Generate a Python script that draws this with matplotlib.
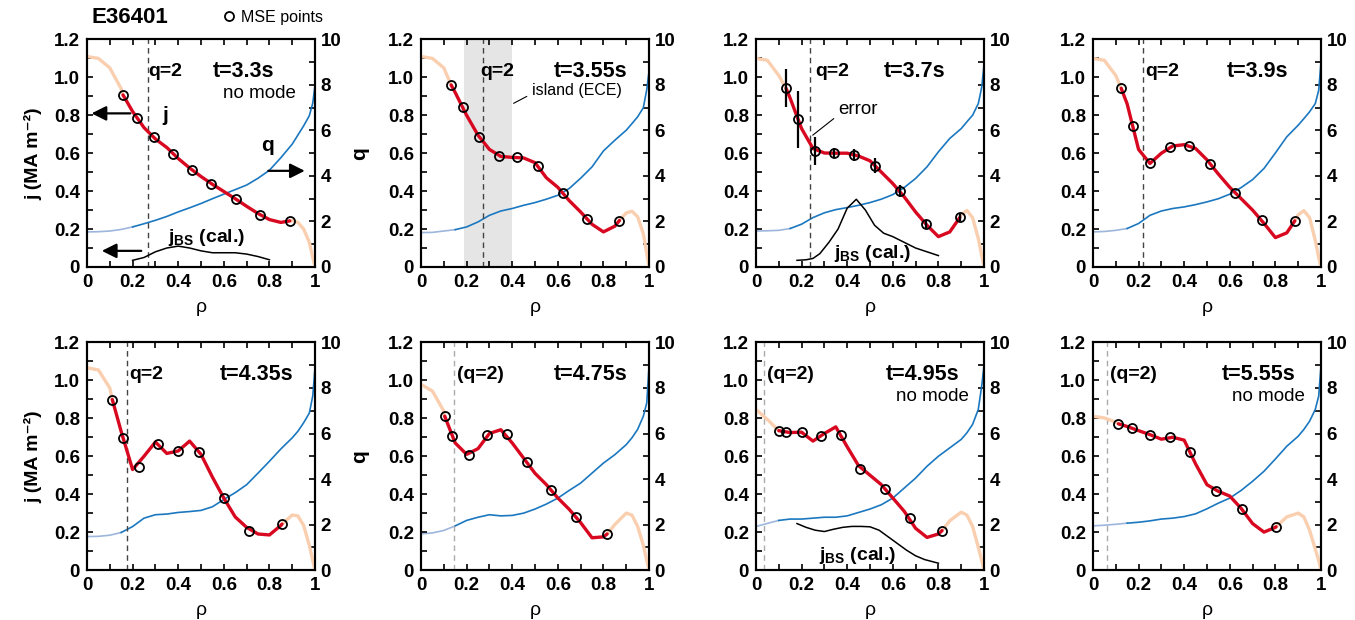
import numpy as np
import matplotlib
matplotlib.use("Agg")
import matplotlib.pyplot as plt
from matplotlib.lines import Line2D

plt.rcParams['font.family'] = ['Liberation Sans', 'DejaVu Sans']
plt.rcParams['font.weight'] = 'bold'
plt.rcParams['axes.labelweight'] = 'bold'
plt.rcParams['mathtext.fontset'] = 'custom'
plt.rcParams['mathtext.rm'] = 'Liberation Sans'
plt.rcParams['mathtext.bf'] = 'Liberation Sans:bold'
plt.rcParams['axes.linewidth'] = 1.5

# radial grid shared by the j and q profiles
rho_grid = [0, .05, .1, .15, .2, .25, .3, .35, .4, .45, .5, .55, .6, .65,
            .7, .75, .8, .85, .9, .925, .95, .975, .99, 1.0]

# t = 3.3 s
j_p1 = [1.11, 1.10, 1.05, 0.94, 0.82, 0.735, 0.675, 0.63, 0.572, 0.522, 0.477, 0.436,
        0.398, 0.36, 0.32, 0.282, 0.25, 0.235, 0.245, 0.235, 0.20, 0.13, 0.05, 0.0]
q_p1 = [1.54, 1.55, 1.58, 1.65, 1.76, 1.9, 2.05, 2.22, 2.42, 2.6, 2.79, 3.0,
        3.2, 3.4, 3.6, 3.9, 4.25, 4.8, 5.4, 5.8, 6.2, 6.65, 7.2, 8.0]
mse_r_p1 = [0.158, 0.218, 0.293, 0.376, 0.460, 0.545, 0.653, 0.758, 0.889]
mse_j_p1 = [0.907, 0.785, 0.685, 0.597, 0.511, 0.440, 0.357, 0.276, 0.243]
jbs_r_p1 = [0.2, 0.25, 0.3, 0.35, 0.4, 0.45, 0.5, 0.55, 0.6, 0.65, 0.7, 0.75, 0.8]
jbs_j_p1 = [0.035, 0.05, 0.08, 0.1, 0.11, 0.1, 0.085, 0.075, 0.075, 0.075, 0.068, 0.055, 0.038]

# t = 3.55 s
j_p2 = [1.11, 1.10, 1.05, 0.92, 0.80, 0.695, 0.62, 0.583, 0.578, 0.575, 0.55, 0.47,
        0.42, 0.35, 0.29, 0.225, 0.185, 0.215, 0.285, 0.294, 0.265, 0.175, 0.07, 0.0]
q_p2 = [1.51, 1.52, 1.58, 1.64, 1.76, 1.98, 2.27, 2.46, 2.57, 2.71, 2.83, 2.98,
        3.15, 3.45, 3.9, 4.4, 5.1, 5.57, 6.01, 6.3, 6.6, 7.0, 7.8, 8.6]
mse_r_p2 = [0.132, 0.182, 0.255, 0.340, 0.423, 0.513, 0.621, 0.728, 0.870]
mse_j_p2 = [0.96, 0.842, 0.683, 0.586, 0.581, 0.533, 0.391, 0.255, 0.245]

# t = 3.7 s
j_p3 = [1.10, 1.09, 1.01, 0.89, 0.73, 0.625, 0.601, 0.600, 0.600, 0.585, 0.56, 0.50,
        0.44, 0.37, 0.29, 0.22, 0.16, 0.185, 0.275, 0.298, 0.26, 0.15, 0.06, 0.0]
q_p3 = [1.58, 1.59, 1.61, 1.69, 1.88, 2.17, 2.38, 2.52, 2.61, 2.71, 2.83, 2.98,
        3.18, 3.49, 3.89, 4.4, 5.06, 5.65, 6.08, 6.38, 6.67, 7.18, 7.9, 8.87]
mse_r_p3 = [0.132, 0.184, 0.259, 0.343, 0.431, 0.522, 0.631, 0.746, 0.894]
mse_j_p3 = [0.942, 0.780, 0.611, 0.602, 0.590, 0.533, 0.400, 0.227, 0.261]
mse_err_p3 = [0.10, 0.15, 0.072, 0.027, 0.03, 0.04, 0.033, 0.02, 0.02]
jbs_r_p3 = [0.18, 0.22, 0.25, 0.28, 0.32, 0.36, 0.40, 0.44, 0.48, 0.52, 0.56, 0.60,
            0.65, 0.70, 0.75, 0.80]
jbs_j_p3 = [0.035, 0.038, 0.045, 0.07, 0.13, 0.20, 0.31, 0.357, 0.30, 0.22, 0.178, 0.16,
            0.13, 0.10, 0.08, 0.06]

# t = 3.9 s
j_p4 = [1.10, 1.09, 1.01, 0.86, 0.62, 0.546, 0.60, 0.638, 0.645, 0.625, 0.565, 0.49,
        0.42, 0.36, 0.30, 0.23, 0.155, 0.18, 0.275, 0.297, 0.26, 0.14, 0.05, 0.0]
q_p4 = [1.54, 1.56, 1.61, 1.69, 1.91, 2.27, 2.46, 2.57, 2.64, 2.74, 2.86, 3.0,
        3.2, 3.49, 3.84, 4.33, 5.01, 5.72, 6.23, 6.52, 6.82, 7.18, 7.77, 9.0]
mse_r_p4 = [0.124, 0.174, 0.250, 0.336, 0.423, 0.514, 0.623, 0.741, 0.885]
mse_j_p4 = [0.942, 0.745, 0.546, 0.634, 0.637, 0.542, 0.391, 0.250, 0.243]

# t = 4.35 s
j_p5 = [1.067, 1.055, 0.96, 0.73, 0.53, 0.60, 0.675, 0.615, 0.628, 0.68, 0.61, 0.49,
        0.379, 0.28, 0.225, 0.19, 0.185, 0.235, 0.29, 0.285, 0.235, 0.13, 0.05, 0.0]
q_p5 = [1.47, 1.48, 1.53, 1.65, 1.91, 2.28, 2.43, 2.46, 2.53, 2.57, 2.62, 2.78,
        3.1, 3.4, 3.75, 4.26, 4.78, 5.32, 5.81, 6.1, 6.47, 6.9, 7.65, 8.9]
mse_r_p5 = [0.111, 0.157, 0.228, 0.313, 0.400, 0.493, 0.599, 0.712, 0.855]
mse_j_p5 = [0.899, 0.697, 0.543, 0.667, 0.628, 0.624, 0.379, 0.208, 0.242]

# t = 4.75 s
j_p6 = [0.979, 0.944, 0.838, 0.67, 0.61, 0.64, 0.72, 0.74, 0.67, 0.59, 0.51, 0.45,
        0.38, 0.32, 0.25, 0.17, 0.175, 0.24, 0.30, 0.29, 0.23, 0.13, 0.05, 0.0]
q_p6 = [1.59, 1.63, 1.74, 1.94, 2.18, 2.32, 2.43, 2.38, 2.40, 2.5, 2.68, 2.9,
        3.16, 3.5, 3.82, 4.26, 4.7, 5.07, 5.51, 5.81, 6.18, 6.76, 7.35, 8.97]
mse_r_p6 = [0.104, 0.138, 0.210, 0.290, 0.375, 0.463, 0.568, 0.678, 0.816]
mse_j_p6 = [0.811, 0.709, 0.605, 0.714, 0.720, 0.571, 0.423, 0.279, 0.190]

# t = 4.95 s
j_p7 = [0.847, 0.794, 0.74, 0.725, 0.727, 0.68, 0.72, 0.755, 0.65, 0.55, 0.50, 0.45,
        0.38, 0.31, 0.22, 0.172, 0.19, 0.26, 0.305, 0.29, 0.23, 0.12, 0.05, 0.0]
q_p7 = [1.91, 2.05, 2.18, 2.24, 2.24, 2.28, 2.32, 2.32, 2.38, 2.53, 2.68, 2.87,
        3.16, 3.6, 4.04, 4.56, 5.0, 5.37, 5.74, 6.03, 6.4, 7.06, 8.1, 8.97]
mse_r_p7 = [0.100, 0.133, 0.204, 0.285, 0.372, 0.457, 0.566, 0.674, 0.816]
mse_j_p7 = [0.735, 0.727, 0.727, 0.705, 0.714, 0.534, 0.429, 0.272, 0.208]
jbs_r_p7 = [0.18, 0.22, 0.26, 0.3, 0.34, 0.38, 0.42, 0.46, 0.5, 0.54, 0.58, 0.62,
            0.66, 0.7, 0.74, 0.8]
jbs_j_p7 = [0.245, 0.225, 0.21, 0.203, 0.215, 0.225, 0.23, 0.23, 0.228, 0.21, 0.175, 0.14,
            0.105, 0.075, 0.055, 0.036]

# t = 5.55 s
j_p8 = [0.811, 0.802, 0.78, 0.757, 0.735, 0.714, 0.69, 0.70, 0.685, 0.56, 0.45, 0.415,
        0.39, 0.325, 0.245, 0.2, 0.225, 0.28, 0.30, 0.28, 0.21, 0.11, 0.05, 0.0]
q_p8 = [1.94, 1.97, 2.01, 2.06, 2.1, 2.16, 2.24, 2.28, 2.35, 2.47, 2.69, 2.94,
        3.16, 3.5, 3.9, 4.34, 4.88, 5.44, 5.88, 6.18, 6.54, 7.06, 7.65, 8.97]
mse_r_p8 = [0.112, 0.171, 0.249, 0.336, 0.427, 0.538, 0.654, 0.803]
mse_j_p8 = [0.771, 0.750, 0.714, 0.700, 0.621, 0.418, 0.321, 0.228]

times = ['t=3.3s', 't=3.55s', 't=3.7s', 't=3.9s', 't=4.35s', 't=4.75s', 't=4.95s', 't=5.55s']
q2_pos = [0.268, 0.27, 0.238, 0.219, 0.176, 0.143, 0.037, 0.062]
q2_text = ['q=2', 'q=2', 'q=2', 'q=2', 'q=2', '(q=2)', '(q=2)', '(q=2)']
no_mode = [True, False, False, False, False, False, True, True]

j_list = [j_p1, j_p2, j_p3, j_p4, j_p5, j_p6, j_p7, j_p8]
q_list = [q_p1, q_p2, q_p3, q_p4, q_p5, q_p6, q_p7, q_p8]
mr_list = [mse_r_p1, mse_r_p2, mse_r_p3, mse_r_p4, mse_r_p5, mse_r_p6, mse_r_p7, mse_r_p8]
mj_list = [mse_j_p1, mse_j_p2, mse_j_p3, mse_j_p4, mse_j_p5, mse_j_p6, mse_j_p7, mse_j_p8]

RED = '#d7081f'
PEACH = '#f9cfb0'
BLUE = '#1b78c0'
LBLUE = '#9db6dc'

fig = plt.figure(figsize=(13.55, 6.2), dpi=100)
lefts = [0.0642, 0.3107, 0.5579, 0.8066]
bottoms = [0.5694, 0.0806]
W, H = 0.1683, 0.367

# label positions inside panels (rho of left edge)
q2_tx = [0.27, 0.26, 0.26, 0.231, 0.185, 0.157, 0.047, 0.074]
t_tx = [0.553, 0.582, 0.562, 0.585, 0.583, 0.581, 0.568, 0.563]

axes = []
for k in range(8):
    row, col = divmod(k, 4)
    ax = fig.add_axes([lefts[col], bottoms[row], W, H])
    ax2 = ax.twinx()
    ax.set_zorder(ax2.get_zorder() + 1)
    ax.patch.set_visible(False)
    axes.append((ax, ax2))

    r = np.array(rho_grid)
    j = np.array(j_list[k])
    q = np.array(q_list[k])
    mr = mr_list[k]
    mj = mj_list[k]
    lo, hi = mr[0], mr[-1]
    left = r < lo
    right = r > hi
    inner = (r > lo) & (r < hi)

    # q profile
    idx = int(np.argmax(r >= lo))
    ax2.plot(r[:idx + 1], q[:idx + 1], color=LBLUE, lw=1.2)
    ax2.plot(r[idx:], q[idx:], color=BLUE, lw=1.2)

    # j profile
    ax.plot(np.r_[r[left], lo], np.r_[j[left], mj[0]], color=PEACH, lw=2.4,
            solid_capstyle='round')
    ax.plot(np.r_[hi, r[right]], np.r_[mj[-1], j[right]], color=PEACH, lw=2.4,
            solid_capstyle='round')
    ax.plot(np.r_[lo, r[inner], hi], np.r_[mj[0], j[inner], mj[-1]], color=RED, lw=2.4,
            solid_capstyle='round', solid_joinstyle='round', zorder=3)
    if k == 2:
        ax.errorbar(mr, mj, yerr=mse_err_p3, fmt='none', ecolor='k', elinewidth=1.6,
                    capsize=0, zorder=4)
    ax.plot(mr, mj, 'o', mfc='none', mec='k', ms=6.5, mew=1.3, zorder=5)

    # q=2 location
    dash_col = '#444444' if k < 5 else '#aaaaaa'
    ax.axvline(q2_pos[k], color=dash_col, lw=1, ls=(0, (4, 3)), zorder=1)

    ax.text(q2_tx[k], 1.03, q2_text[k], fontsize=14, ha='left', va='center')
    ax.text(t_tx[k], 1.03, times[k], fontsize=15.5, ha='left', va='center')
    if no_mode[k]:
        ax.text(t_tx[k] + 0.045, 0.915, 'no mode', fontsize=13.5, fontweight='normal',
                ha='left', va='center')

    ax.set_xlim(0, 1)
    ax.set_ylim(0, 1.2)
    ax2.set_ylim(0, 10)
    ax.set_xticks([0, 0.2, 0.4, 0.6, 0.8, 1.0])
    ax.set_xticklabels(['0', '0.2', '0.4', '0.6', '0.8', '1'])
    ax.set_xticks(np.arange(0.1, 1.0, 0.2), minor=True)
    ax.set_yticks([0, 0.2, 0.4, 0.6, 0.8, 1.0, 1.2])
    ax.set_yticklabels(['0', '0.2', '0.4', '0.6', '0.8', '1.0', '1.2'])
    ax.set_yticks(np.arange(0.1, 1.2, 0.2), minor=True)
    ax2.set_yticks([0, 2, 4, 6, 8, 10])
    ax2.set_yticks([1, 3, 5, 7, 9], minor=True)
    ax.tick_params(which='both', direction='in', top=True, right=False, length=4,
                   width=1.2, labelsize=13.5, pad=5)
    ax2.tick_params(which='both', direction='in', length=4, width=1.2, labelsize=13.5, pad=4)
    ax.set_xlabel('ρ', fontsize=14, fontweight='normal', labelpad=6)
    for s in ax2.spines.values():
        s.set_linewidth(1.5)

# bootstrap current
a1 = axes[0][0]
a3 = axes[2][0]
a7 = axes[6][0]
a1.plot(jbs_r_p1, jbs_j_p1, color='k', lw=1.1)
a3.plot(jbs_r_p3, jbs_j_p3, color='k', lw=1.1)
a7.plot(jbs_r_p7, jbs_j_p7, color='k', lw=1.1)
jbs_lab = r'$\mathbf{j_{BS}}$ (cal.)'
a1.text(0.356, 0.158, jbs_lab, fontsize=14, ha='left', va='center')
a3.text(0.344, 0.07, jbs_lab, fontsize=14, ha='left', va='center')
a7.text(0.277, 0.079, jbs_lab, fontsize=14, ha='left', va='center')

# arrows in first panel
arw = dict(arrowstyle='-|>', color='k', lw=1.6, mutation_scale=22, shrinkA=0, shrinkB=0)
a1.annotate('', xy=(0.02, 0.81), xytext=(0.19, 0.81), arrowprops=arw)
a1.annotate('', xy=(0.955, 0.507), xytext=(0.795, 0.507), arrowprops=arw)
a1.annotate('', xy=(0.065, 0.085), xytext=(0.238, 0.085), arrowprops=arw)
a1.text(0.33, 0.80, 'j', fontsize=15, ha='left', va='center')
a1.text(0.765, 0.64, 'q', fontsize=15, ha='left', va='center')

# island width from ECE
a2 = axes[1][0]
axes[1][1].axvspan(0.189, 0.399, color='#e5e5e5', lw=0, zorder=0)
a2.annotate('island (ECE)', xy=(0.406, 0.863), xytext=(0.487, 0.93), fontsize=11.5,
            fontweight='normal', va='center',
            arrowprops=dict(arrowstyle='-', color='k', lw=0.8, shrinkA=2, shrinkB=0,
                            relpos=(0, 0.3)))
a3.annotate('error', xy=(0.249, 0.695), xytext=(0.363, 0.83), fontsize=13.5,
            fontweight='normal', va='center',
            arrowprops=dict(arrowstyle='-', color='k', lw=0.8, shrinkA=2, shrinkB=0,
                            relpos=(0, 0.2)))

# axis titles
for k in (0, 4):
    axes[k][0].set_ylabel('j (MA m⁻²)', fontsize=14, fontweight='bold', labelpad=8)
    axes[k][1].set_ylabel('q', fontsize=15, fontweight='bold', rotation=90, labelpad=6)

fig.text(0.096, 0.972, 'E36401', fontsize=16, ha='center', va='center')
fig.legend(handles=[Line2D([], [], marker='o', ls='none', mfc='none', mec='k', ms=6.5,
                           mew=1.3)],
           labels=['MSE points'], loc='center left', bbox_to_anchor=(0.157, 0.972),
           frameon=False, handletextpad=0.3, borderpad=0, handlelength=1.0,
           prop={'size': 11.5, 'weight': 'normal'})

fig.savefig('out.png', dpi=100)
